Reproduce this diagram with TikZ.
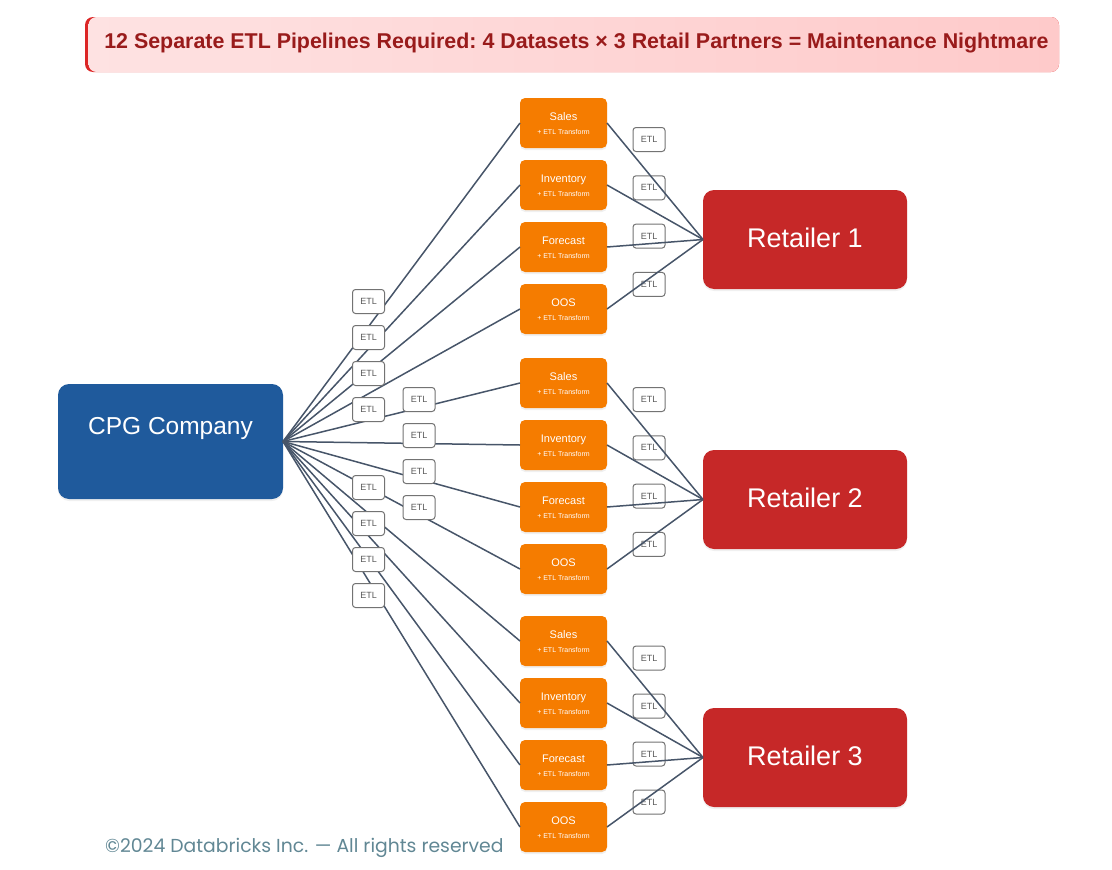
\documentclass[tikz,border=0pt]{standalone}
\usepackage{fontspec}
\setmainfont{Liberation Sans}
\newfontfamily\footfont{Poppins}
\usetikzlibrary{positioning,shadows}

\definecolor{cpgblue}{HTML}{1F5A9C}
\definecolor{retailred}{HTML}{C62828}
\definecolor{dataorange}{HTML}{F57C00}
\definecolor{wirecol}{HTML}{475569}
\definecolor{titlered}{HTML}{991B1B}
\definecolor{barred}{HTML}{DC2626}
\definecolor{footcol}{HTML}{618794}
\definecolor{pinkleft}{HTML}{FEE2E2}
\definecolor{pinkright}{HTML}{FECACA}

\newcommand{\px}[1]{\fontsize{#1}{#1}\selectfont}
\newcommand{\data}[1]{\rule{0pt}{10pt}#1\\[3pt]{\px{7}+ ETL Transform}}

\tikzset{
    softshadow/.style={drop shadow={shadow xshift=0pt, shadow yshift=-2pt, opacity=0.12}},
    company/.style={fill=cpgblue, text=white, rounded corners=11pt, minimum width=225pt, minimum height=115pt, inner sep=0pt, outer sep=0pt, softshadow, font=\px{24.5}, text height=10pt, text depth=25pt},
    retailer/.style={fill=retailred, text=white, rounded corners=11pt, minimum width=204pt, minimum height=99pt, inner sep=0pt, outer sep=0pt, softshadow, font=\px{27}, text height=20pt, text depth=4pt},
    dataset/.style={fill=dataorange, text=white, rounded corners=5pt, minimum width=87pt, minimum height=50pt, inner sep=0pt, outer sep=0pt, align=center, softshadow, font=\px{11}},
    etl/.style={draw=black!55, fill=white, text=black!65, line width=1pt, rounded corners=3pt, minimum width=32pt, minimum height=24pt, inner sep=0pt, outer sep=0pt, font=\px{9}},
    wire/.style={draw=wirecol, line width=1.5pt},
}

\begin{document}
\begin{tikzpicture}[x=1pt, y=-1pt, node distance=12pt]

    \useasboundingbox (0,0) rectangle (1112,870);

    % Banner

    \node[fill=barred, rounded corners=8pt, minimum width=974pt, minimum height=55pt, inner sep=0pt, outer sep=0pt] (bar) at (572,44.5) {}; %
    \node[left color=pinkleft, right color=pinkright, rounded corners=8pt, minimum width=970.5pt, minimum height=55pt, inner sep=0pt, outer sep=0pt, text=titlered, font=\px{21.4}\bfseries\frenchspacing, text height=15pt, text depth=7pt] (title) at (573.75,44.5) {\hspace*{5.5pt}12 Separate ETL Pipelines Required: 4 Datasets × 3 Retail Partners = Maintenance Nightmare}; %

    % Nodes

    \node[company]  (cpg) at (170.5,441.5) {CPG Company}; %
    \node[retailer] (r1)  at (805,239.5)   {Retailer 1}; %
    \node[retailer] (r2)  at (805,499.5)   {Retailer 2}; %
    \node[retailer] (r3)  at (805,757.5)   {Retailer 3}; %

    \node[dataset]                 (s1) at (563.5,123) {\data{Sales}}; %
    \node[dataset, below=of s1]    (i1) {\data{Inventory}}; %
    \node[dataset, below=of i1]    (f1) {\data{Forecast}}; %
    \node[dataset, below=of f1]    (o1) {\data{OOS}}; %

    \node[dataset, below=24pt of o1] (s2) {\data{Sales}}; %
    \node[dataset, below=of s2]    (i2) {\data{Inventory}}; %
    \node[dataset, below=of i2]    (f2) {\data{Forecast}}; %
    \node[dataset, below=of f2]    (o2) {\data{OOS}}; %

    \node[dataset, below=22pt of o2] (s3) {\data{Sales}}; %
    \node[dataset, below=of s3]    (i3) {\data{Inventory}}; %
    \node[dataset, below=of i3]    (f3) {\data{Forecast}}; %
    \node[dataset, below=of f3]    (o3) {\data{OOS}}; %

    % Company to datasets

    \draw[wire] (cpg.east) -- (s1.west);
    \draw[wire] (cpg.east) -- (i1.west);
    \draw[wire] (cpg.east) -- (f1.west);
    \draw[wire] (cpg.east) -- (o1.west);
    \draw[wire] (cpg.east) -- (s2.west);
    \draw[wire] (cpg.east) -- (i2.west);
    \draw[wire] (cpg.east) -- (f2.west);
    \draw[wire] (cpg.east) -- (o2.west);
    \draw[wire] (cpg.east) -- (s3.west);
    \draw[wire] (cpg.east) -- (i3.west);
    \draw[wire] (cpg.east) -- (f3.west);
    \draw[wire] (cpg.east) -- (o3.west);

    % ETL boxes on the company side

    \node[etl]                    (a1) at (368.5,301.5) {ETL}; %
    \node[etl, below=of a1]       (a2) {ETL}; %
    \node[etl, below=of a2]       (a3) {ETL}; %
    \node[etl, below=of a3]       (a4) {ETL}; %
    \node[etl, below=54pt of a4]  (a5) {ETL}; %
    \node[etl, below=of a5]       (a6) {ETL}; %
    \node[etl, below=of a6]       (a7) {ETL}; %
    \node[etl, below=of a7]       (a8) {ETL}; %

    \node[etl]                    (b1) at (419,399.5) {ETL}; %
    \node[etl, below=of b1]       (b2) {ETL}; %
    \node[etl, below=of b2]       (b3) {ETL}; %
    \node[etl, below=of b3]       (b4) {ETL}; %

    % ETL boxes on the retailer side

    \node[etl]                    (c1) at (649,139.5) {ETL}; %
    \node[etl, below=24.3pt of c1] (c2) {ETL}; %
    \node[etl, below=24.3pt of c2] (c3) {ETL}; %
    \node[etl, below=24.3pt of c3] (c4) {ETL}; %

    \node[etl]                    (d1) at (649,399.5) {ETL}; %
    \node[etl, below=24.3pt of d1] (d2) {ETL}; %
    \node[etl, below=24.3pt of d2] (d3) {ETL}; %
    \node[etl, below=24.3pt of d3] (d4) {ETL}; %

    \node[etl]                    (g1) at (649,658) {ETL}; %
    \node[etl, below=24pt of g1]  (g2) {ETL}; %
    \node[etl, below=24pt of g2]  (g3) {ETL}; %
    \node[etl, below=24pt of g3]  (g4) {ETL}; %

    % Datasets to retailers

    \draw[wire] (s1.east) -- (r1.west);
    \draw[wire] (i1.east) -- (r1.west);
    \draw[wire] (f1.east) -- (r1.west);
    \draw[wire] (o1.east) -- (r1.west);
    \draw[wire] (s2.east) -- (r2.west);
    \draw[wire] (i2.east) -- (r2.west);
    \draw[wire] (f2.east) -- (r2.west);
    \draw[wire] (o2.east) -- (r2.west);
    \draw[wire] (s3.east) -- (r3.west);
    \draw[wire] (i3.east) -- (r3.west);
    \draw[wire] (f3.east) -- (r3.west);
    \draw[wire] (o3.east) -- (r3.west);

    % Footer

    \node[anchor=west, inner sep=0pt, text=footcol, font=\footfont\px{18.8}] (foot) at (105,848) {©2024 Databricks Inc. — All rights reserved}; %

\end{tikzpicture}
\end{document}
